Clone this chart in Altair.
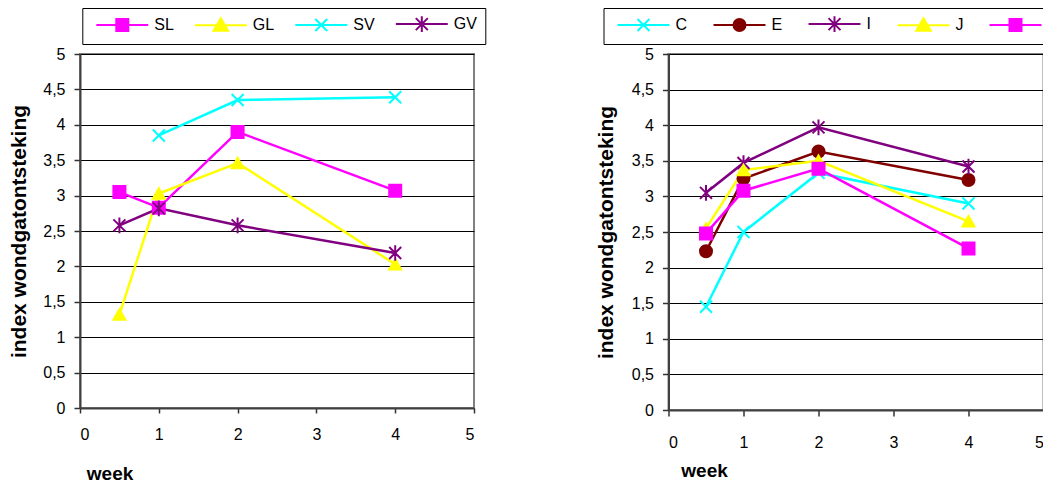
import altair as alt
import pandas as pd

weeks = [0.5, 1, 2, 4]

# left panel
left_series = ["SL", "GL", "SV", "GV"]
SL = [3.05, 2.83, 3.90, 3.07]
GL = [1.32, 3.03, 3.46, 2.03]
SV = [None, 3.85, 4.35, 4.39]
GV = [2.58, 2.82, 2.58, 2.19]
left_colors = ["#FF00FF", "#FFFF00", "#00FFFF", "#800080"]

# right panel
right_series = ["C", "E", "I", "J", "L"]
C = [1.45, 2.50, 3.33, 2.90]
E = [2.23, 3.25, 3.63, 3.23]
I = [3.05, 3.47, 3.97, 3.42]
J = [2.55, 3.37, 3.50, 2.65]
L = [2.48, 3.08, 3.39, 2.27]
right_colors = ["#00FFFF", "#800000", "#800080", "#FFFF00", "#FF00FF"]

x_ticks = [0, 1, 2, 3, 4, 5]
y_ticks = [0, 0.5, 1, 1.5, 2, 2.5, 3, 3.5, 4, 4.5, 5]

FONT = "Liberation Sans"

# marker shapes (unit square -1..1)
M = {
    "square": "square",
    "triangle": "triangle-up",
    "circle": "circle",
    "x": "M-1,-1L1,1M-1,1L1,-1",
    "star": "M-1,-1L1,1M-1,1L1,-1M0,-1.3V1.3",
}
# legend symbols: line + marker (unit = 6px)
LG = {
    "square": "M-0.33,0H8.33M3,-1H5V1H3Z",
    "triangle": "M-0.33,0H8.33M4,-1.15L5.22,0.95H2.78Z",
    "circle": "M-0.33,0H8.33M3,0A1,1 0 1,0 5,0A1,1 0 1,0 3,0Z",
    "x": "M-0.33,0H8.33M3,-1L5,1M3,1L5,-1",
    "star": "M-0.33,0H8.33M3,-1L5,1M3,1L5,-1M4,-1.3V1.3",
}
left_kinds = ["square", "triangle", "x", "star"]
right_kinds = ["x", "circle", "star", "triangle", "square"]


def long_df(names, arrays):
    rows = []
    for n, arr in zip(names, arrays):
        for w, v in zip(weeks, arr):
            if v is not None:
                rows.append({"week": w, "value": v, "series": n, "leg": n})
    return pd.DataFrame(rows)


def panel(df, names, colors, kinds, width, height, legend_x, legend_y,
          col_pad, leg_pad, ytitle_x, xtitle_x, xtitle_y, x_lab_pad, x_tick):
    fills = [c if k in ("square", "triangle", "circle") else "transparent"
             for c, k in zip(colors, kinds)]
    xenc = alt.X("week:Q", scale=alt.Scale(domain=[0, 5], nice=False),
                 axis=alt.Axis(values=x_ticks, title="week", grid=False,
                               tickSize=x_tick, labelPadding=x_lab_pad,
                               titleX=xtitle_x, titleY=xtitle_y,
                               titleAlign="left", titleBaseline="middle",
                               titleAnchor="start",
                               titleFontSize=19, titleFontWeight="bold"))
    yenc = alt.Y("value:Q", scale=alt.Scale(domain=[0, 5], nice=False),
                 axis=alt.Axis(values=y_ticks, format=".1~f",
                               labelExpr="replace(datum.label, '.', ',')",
                               title="index wondgatontsteking", grid=True,
                               tickSize=6, labelPadding=9,
                               titleX=ytitle_x, titleY=height / 2,
                               titleAngle=270, titleAlign="center",
                               titleBaseline="middle",
                               titleFontSize=21, titleFontWeight="bold"))
    cscale = alt.Scale(domain=names, range=colors)
    base = alt.Chart(df)
    lines = base.mark_line(strokeWidth=2.5).encode(
        x=xenc, y=yenc,
        color=alt.Color("series:N", scale=cscale, legend=None),
        order=alt.Order("week:Q"),
    )
    pts = base.mark_point(filled=False, size=144, strokeWidth=2, opacity=1).encode(
        x=xenc, y=yenc,
        color=alt.Color("series:N", scale=cscale, legend=None),
        fill=alt.Fill("series:N", scale=alt.Scale(domain=names, range=fills), legend=None),
        shape=alt.Shape("series:N", scale=alt.Scale(domain=names, range=[M[k] for k in kinds]), legend=None),
    )
    leg = alt.Legend(orient="none", legendX=legend_x, legendY=legend_y,
                     direction="horizontal", columns=len(names), title=None,
                     symbolSize=144, symbolStrokeWidth=2, symbolOpacity=1,
                     labelOffset=48, columnPadding=col_pad, padding=leg_pad,
                     strokeColor="black", fillColor="white",
                     labelFont=FONT, labelFontSize=16, labelColor="black",
                     labelLimit=0)
    carrier = base.mark_point(filled=False, strokeWidth=2, opacity=0).encode(
        color=alt.Color("leg:N", scale=alt.Scale(domain=names, range=colors), legend=leg),
        fill=alt.Fill("leg:N", scale=alt.Scale(domain=names, range=fills), legend=leg),
        shape=alt.Shape("leg:N", scale=alt.Scale(domain=names, range=[LG[k] for k in kinds]), legend=leg),
    )
    return alt.layer(lines, pts, carrier).resolve_scale(
        color="independent", fill="independent", shape="independent"
    ).properties(width=width, height=height)


left = panel(long_df(left_series, [SL, GL, SV, GV]), left_series, left_colors,
             left_kinds, 394, 354, 2.3, -46, 14.5, 8, -60.7, 6.3, 65, 13.5, 5)
right = panel(long_df(right_series, [C, E, I, J, L]), right_series, right_colors,
              right_kinds, 375, 356, -65, -46, 20, 8, -62, 12.3, 60, 18.5, 6)

chart = alt.hconcat(left, right, spacing=194.5, bounds="flush").properties(
    padding={"left": -1, "top": -2, "right": -23, "bottom": 0}
).configure(
    font=FONT
).configure_view(
    fill="#C0C0C0", stroke="#808080", strokeWidth=2
).configure_axis(
    labelFont=FONT, titleFont=FONT, labelFontSize=16, labelColor="black",
    titleColor="black", domainColor="#404040", domainWidth=2,
    tickColor="#333333", tickWidth=1.5, gridColor="black", gridWidth=1,
    gridOpacity=1,
)

chart.save("out.html", embed_options={"renderer": "svg", "actions": False})
